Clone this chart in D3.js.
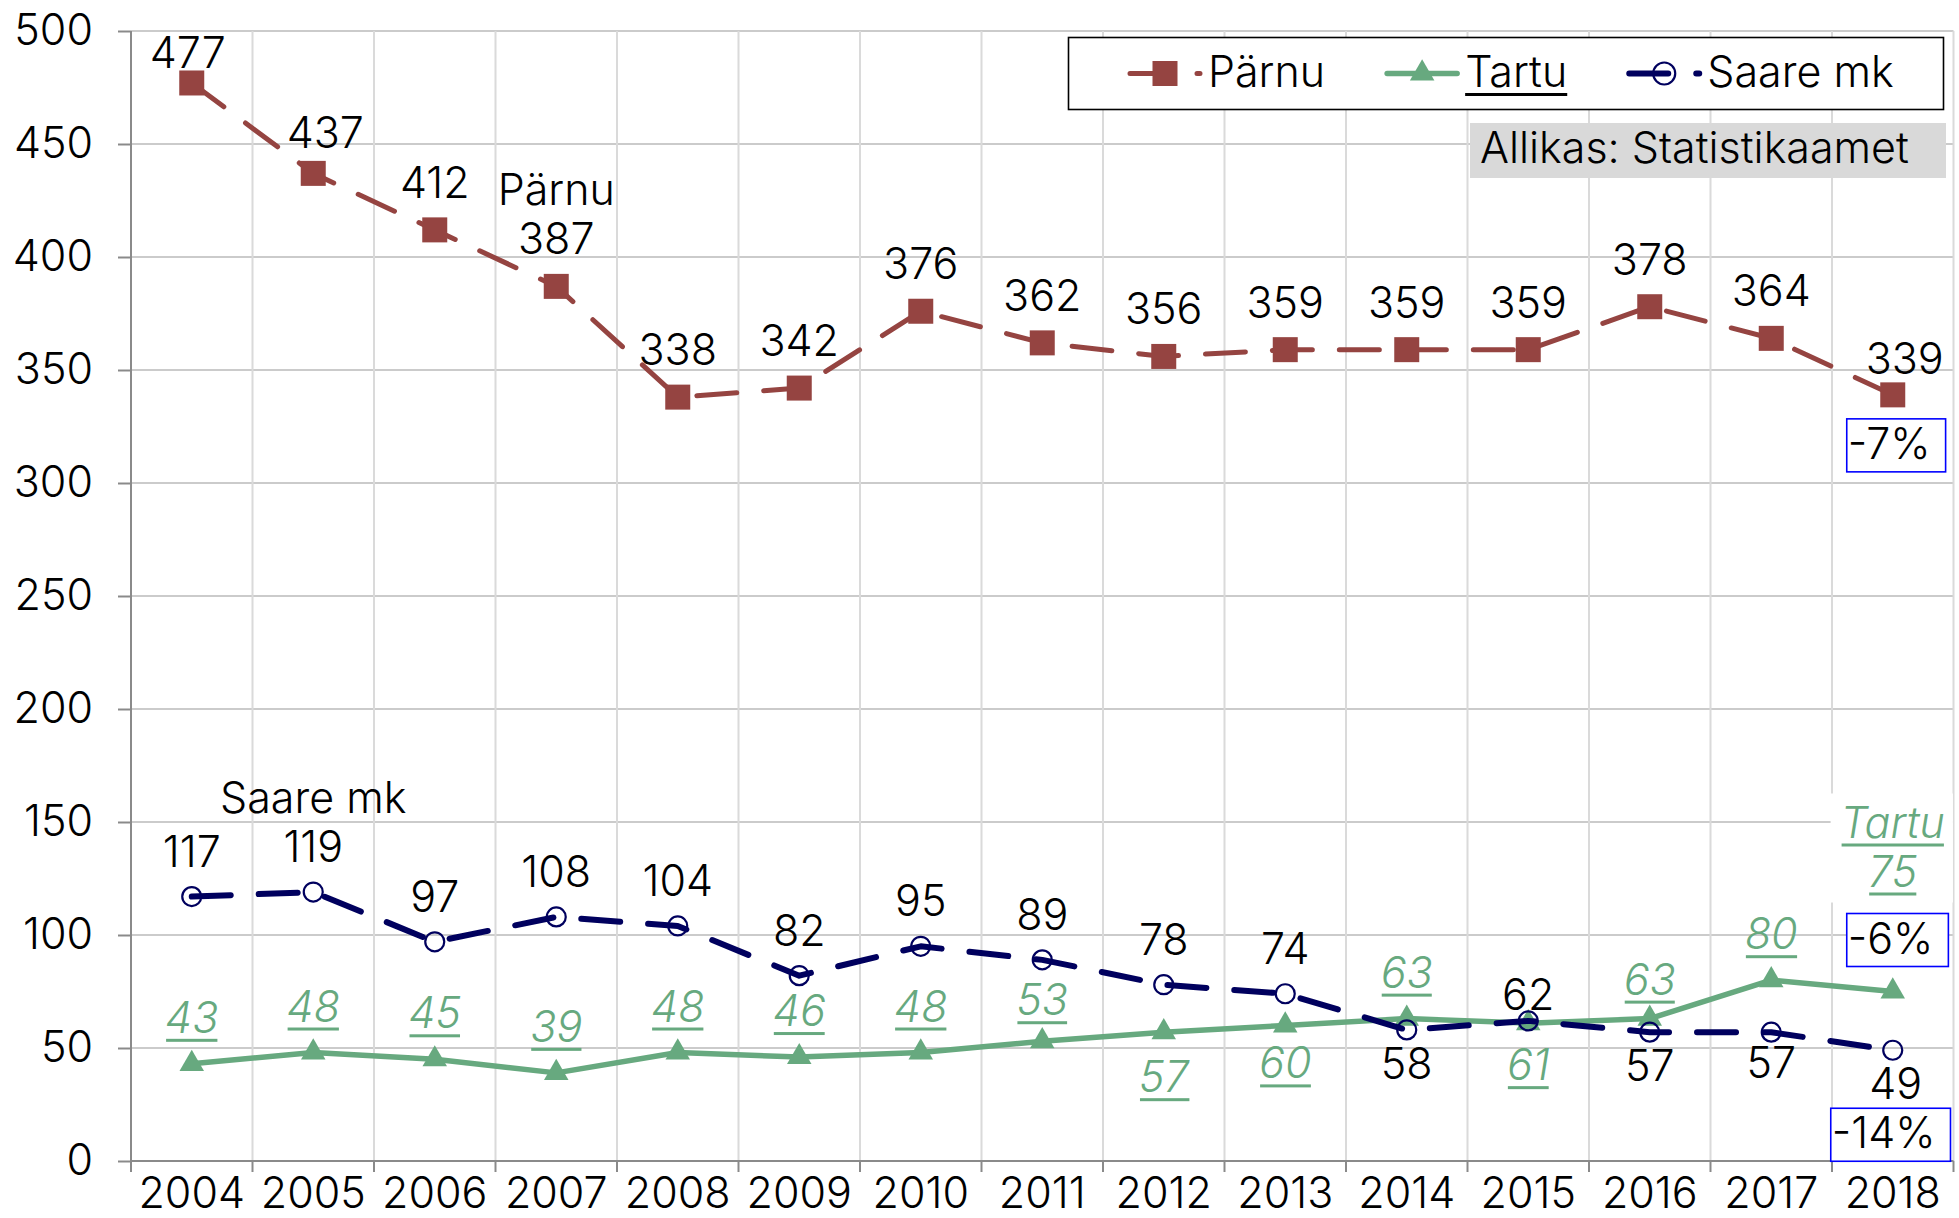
<!DOCTYPE html>
<html><head><meta charset="utf-8">
<script src="https://cdn.jsdelivr.net/npm/d3@7"></script>
<style>
html,body{margin:0;padding:0;background:#fff;}
svg{display:block;}
text{font-family:Inter,"Noto Sans",sans-serif;font-weight:300;}
</style></head><body>
<svg id="c" width="1959" height="1218"></svg>
<script>
// ---------- data ----------
const years = [2004,2005,2006,2007,2008,2009,2010,2011,2012,2013,2014,2015,2016,2017,2018];
const parnu = [477,437,412,387,338,342,376,362,356,359,359,359,378,364,339];
const tartu = [43,48,45,39,48,46,48,53,57,60,63,61,63,80,75];
const saare = [117,119,97,108,104,82,95,89,78,74,58,62,57,57,49];
const yTicks = [0,50,100,150,200,250,300,350,400,450,500];
const seriesNames = ["Pärnu","Tartu","Saare mk"];
const changeLabels = ["-7%","-6%","-14%"];
const sourceText = "Allikas: Statistikaamet";
// label placement: a = above, b = below
const parnuPlace = ["a","a","a","a","a","a","a","a","a","a","a","a","a","a","a"];
const tartuPlace = ["a","a","a","a","a","a","a","a","b","b","a","b","a","a","a"];
const saarePlace = ["a","a","a","a","a","a","a","a","a","a","b","a","b","b","b"];

// ---------- layout ----------
const FS = 43;
const plot = {left:131, right:1953.5, top:31, bottom:1161};
const svg = d3.select('#c');
const x = d3.scaleBand().domain(years).range([plot.left, plot.right]).padding(0);
const y = d3.scaleLinear().domain([0,500]).range([plot.bottom, plot.top]);
const cx = i => x(years[i]) + x.bandwidth()/2;

const series = [
  {name:seriesNames[0], values:parnu, color:"#954441", width:5, dash:"40 27", marker:"square",
   place:parnuPlace, labelColor:"#000", italic:false, underline:false, above:-32, below:50},
  {name:seriesNames[1], values:tartu, color:"#67a97f", width:5.5, dash:null, marker:"triangle",
   place:tartuPlace, labelColor:"#67a97f", italic:true, underline:true, above:-31, below:57},
  {name:seriesNames[2], values:saare, color:"#00005e", width:6, dash:"39 28", marker:"circle",
   place:saarePlace, labelColor:"#000", italic:false, underline:false, above:-30, below:49}
];
const labelTweaks = [
  {0:{dx:-4,dy:17}, 1:{dx:12,dy:7}, 3:{pre:["Pärnu"]}, 14:{dx:12,dy:11}},
  {7:{dy:5}, 8:{dy:3}, 9:{dy:-4}, 12:{dy:7}, 14:{dy:-74, pre:["Tartu"], bg:true}},
  {1:{pre:["Saare mk"]}, 11:{dy:19}, 13:{dy:-3}, 14:{dx:3}}
];
const changeBoxes = [{dx:-45, dy:64},{dx:-45, dy:-38},{dx:-61, dy:98}];

// ---------- grid ----------
const grid = svg.append('g');
grid.selectAll('line.h').data(yTicks.filter(v=>v>0)).join('line')
  .attr('x1', plot.left).attr('x2', plot.right)
  .attr('y1', d=>y(d)).attr('y2', d=>y(d))
  .attr('stroke','#cbcbcb').attr('stroke-width',2);
const bounds = years.slice(1).map(d=>x(d)).concat([plot.right]);
grid.selectAll('line.v').data(bounds).join('line')
  .attr('x1', d=>d).attr('x2', d=>d).attr('y1', plot.top).attr('y2', plot.bottom)
  .attr('stroke','#dadada').attr('stroke-width',2);

// ---------- axes ----------
const axisColor = "#8a8a8a";
const yAxis = svg.append('g').attr('transform',`translate(${plot.left},0)`)
  .call(d3.axisLeft(y).tickValues(yTicks).tickSize(13).tickSizeOuter(0).tickPadding(25));
yAxis.select('.domain').remove();
yAxis.selectAll('line').attr('stroke',axisColor).attr('stroke-width',2);
yAxis.selectAll('text').attr('font-size',FS).attr('fill','#000').attr('font-family','Inter,"Noto Sans",sans-serif').attr('font-weight',300);

const xAxis = svg.append('g').attr('transform',`translate(0,${plot.bottom})`)
  .call(d3.axisBottom(x).tickSize(0).tickPadding(16.5));
xAxis.select('.domain').remove();
xAxis.selectAll('text').attr('font-size',FS).attr('fill','#000').attr('font-family','Inter,"Noto Sans",sans-serif').attr('font-weight',300);
// axis lines and boundary ticks
svg.append('line').attr('x1',plot.left).attr('x2',plot.left).attr('y1',plot.top).attr('y2',plot.bottom+11)
  .attr('stroke',axisColor).attr('stroke-width',2);
svg.append('line').attr('x1',plot.left).attr('x2',plot.right).attr('y1',plot.bottom).attr('y2',plot.bottom)
  .attr('stroke',axisColor).attr('stroke-width',2);
svg.selectAll('line.xt').data(bounds).join('line')
  .attr('x1',d=>d).attr('x2',d=>d).attr('y1',plot.bottom).attr('y2',plot.bottom+11)
  .attr('stroke',axisColor).attr('stroke-width',2);

// ---------- markers ----------
function drawMarker(sel, s, px, py, big) {
  if (s.marker === "square") {
    const a = 25;
    sel.append('rect').attr('x',px-a/2).attr('y',py-a/2).attr('width',a).attr('height',a).attr('fill',s.color);
  } else if (s.marker === "triangle") {
    sel.append('path').attr('d', d3.symbol(d3.symbolTriangle, 260)()).attr('transform',`translate(${px},${py})`)
      .attr('fill',s.color);
  } else {
    sel.append('circle').attr('cx',px).attr('cy',py).attr('r', big?11:9.5)
      .attr('fill','none').attr('stroke',s.color).attr('stroke-width',2.2);
  }
}

// ---------- lines ----------
const line = d3.line().x((d,i)=>cx(i)).y(d=>y(d));
series.forEach(s => {
  const p = svg.append('path').datum(s.values).attr('d',line)
    .attr('fill','none').attr('stroke',s.color).attr('stroke-width',s.width)
    .attr('stroke-linecap','round').attr('stroke-linejoin','round');
  if (s.dash) p.attr('stroke-dasharray',s.dash);
  const mg = svg.append('g');
  s.values.forEach((v,i)=>drawMarker(mg, s, cx(i), y(v), false));
});

// ---------- data labels ----------
const labelLayer = svg.append('g');
function addLabel(lines, xc, baseline, s, bg) {
  const grp = labelLayer.append('g');
  lines.forEach((str,k) => {
    const by = baseline - (lines.length-1-k)*49;
    const t = grp.append('text').attr('x',xc).attr('y',by).attr('text-anchor','middle')
      .attr('font-size',FS).attr('fill',s.labelColor)
      .attr('font-style', s.italic ? 'italic' : 'normal').text(str);
    if (s.underline) {
      const bb = t.node().getBBox();
      grp.append('rect').attr('x',bb.x+1).attr('y',by+6).attr('width',bb.width-2).attr('height',3)
        .attr('fill',s.labelColor);
    }
  });
  if (bg) {
    const bb = grp.node().getBBox();
    grp.insert('rect',':first-child').attr('x',bb.x-10).attr('y',bb.y-2)
      .attr('width',bb.width+18).attr('height',bb.height+8).attr('fill','#fff');
  }
}
series.forEach((s,si) => {
  s.values.forEach((v,i) => {
    const tw = labelTweaks[si][i] || {};
    const base = s.place[i] === "a" ? s.above : s.below;
    const lines = (tw.pre || []).concat([String(v)]);
    addLabel(lines, cx(i) + (tw.dx||0), y(v) + base + (tw.dy||0), s, tw.bg);
  });
});

// ---------- change boxes ----------
series.forEach((s,si) => {
  const last = s.values.length-1;
  const cb = changeBoxes[si];
  const g = svg.append('g');
  const tx = cx(last) + cb.dx, ty = y(s.values[last]) + cb.dy;
  const r = g.append('rect');
  const t = g.append('text').attr('x',tx).attr('y',ty).attr('font-size',FS).attr('fill','#000').text(changeLabels[si]);
  const w = t.node().getComputedTextLength();
  r.attr('x',tx-1).attr('y',ty-40).attr('width',w+16).attr('height',53)
    .attr('fill','#fff').attr('stroke','#0000ff').attr('stroke-width',1.6);
});

// ---------- legend ----------
const lg = svg.append('g');
lg.append('rect').attr('x',1068.5).attr('y',37.5).attr('width',875).attr('height',72)
  .attr('fill','#fff').attr('stroke','#000').attr('stroke-width',1.6);
let lx = 1130;
const ly = 73.5;
series.forEach(s => {
  const l = lg.append('line').attr('x1',lx).attr('x2',lx+70).attr('y1',ly).attr('y2',ly)
    .attr('stroke',s.color).attr('stroke-width',s.width).attr('stroke-linecap','round');
  if (s.dash) l.attr('stroke-dasharray',s.dash);
  drawMarker(lg, s, lx+35, ly, true);
  const t = lg.append('text').attr('x',lx+78).attr('y',87).attr('font-size',FS).attr('fill','#000').text(s.name);
  const w = t.node().getComputedTextLength();
  if (s.underline) {
    lg.append('rect').attr('x',lx+78).attr('y',87+6).attr('width',w).attr('height',3).attr('fill','#000');
  }
  lx = lx + 78 + w + 62;
});

// ---------- source ----------
const sg = svg.append('g');
sg.append('rect').attr('x',1470).attr('y',123).attr('width',476).attr('height',55).attr('fill','#d9d9d9');
sg.append('text').attr('x',1480).attr('y',163).attr('font-size',FS).attr('fill','#000').text(sourceText);
</script>
</body></html>
